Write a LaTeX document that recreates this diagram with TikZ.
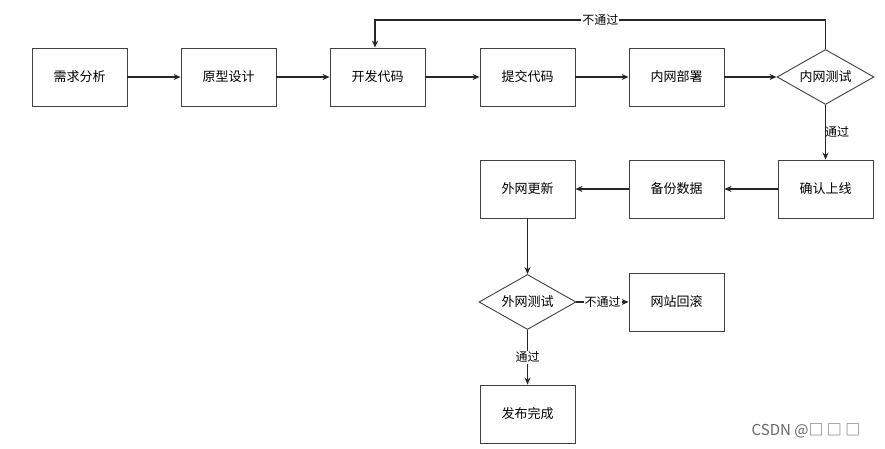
\documentclass[tikz,border=0pt]{standalone}
\usepackage{fontspec}
\setmainfont{Liberation Sans}
\newfontfamily\cjk{Noto Sans CJK SC}
\usetikzlibrary{shapes.geometric,arrows.meta}
\begin{document}
\begin{tikzpicture}[x=1pt,y=-1pt,
  box/.style={draw=black!75,line width=0.9pt,minimum width=95pt,minimum height=58pt,inner sep=0pt,font=\cjk\fontsize{13}{15}\selectfont},
  dia/.style={draw=black!75,line width=0.9pt,diamond,aspect=1.8,minimum width=97pt,minimum height=55pt,inner sep=0pt,font=\cjk\fontsize{13}{15}\selectfont},
  arr/.style={draw=black!85,line width=1.1pt,-{Stealth[length=7pt,width=6pt]}},
  lab/.style={font=\cjk\fontsize{12}{14}\selectfont,fill=white,inner sep=1pt}]
\useasboundingbox[fill=white] (0,0) rectangle (885,449);
\node[box] (a) at (79.5,77) {需求分析};
\node[box] (b) at (228.5,77) {原型设计};
\node[box] (c) at (377.5,77) {开发代码};
\node[box] (d) at (527.5,77) {提交代码};
\node[box] (e) at (676.5,77) {内网部署};
\node[dia] (f) at (825.5,77) {内网测试};
\node[box] (g) at (825.5,189) {确认上线};
\node[box] (h) at (676.5,189) {备份数据};
\node[box] (i) at (527.5,189) {外网更新};
\node[dia] (j) at (527.5,302) {外网测试};
\node[box] (k) at (676.5,302) {网站回滚};
\node[box] (l) at (527.5,414) {发布完成};
\coordinate (t1) at (825.5,20);
\coordinate (t2) at (375,20);
\draw[arr] (a) -- (b);
\draw[arr] (b) -- (c);
\draw[arr] (c) -- (d);
\draw[arr] (d) -- (e);
\draw[arr] (e) -- (f);
\draw[arr] (f.north) -- (t1) -- node[lab,pos=0.5] {不通过} (t2) -- (c.north -| t2);
\draw[arr] (f) -- node[lab,right=-2pt,fill=none,pos=0.5] {通过} (g);
\draw[arr] (g) -- (h);
\draw[arr] (h) -- (i);
\draw[arr] (i) -- (j);
\draw[arr] (j) -- node[lab] {不通过} (k);
\draw[arr] (j) -- node[lab] {通过} (l);
\node[font=\cjk\fontsize{15}{17}\selectfont,text=black!60] (w) at (806,431) {CSDN @□ □ □};
\end{tikzpicture}
\end{document}
